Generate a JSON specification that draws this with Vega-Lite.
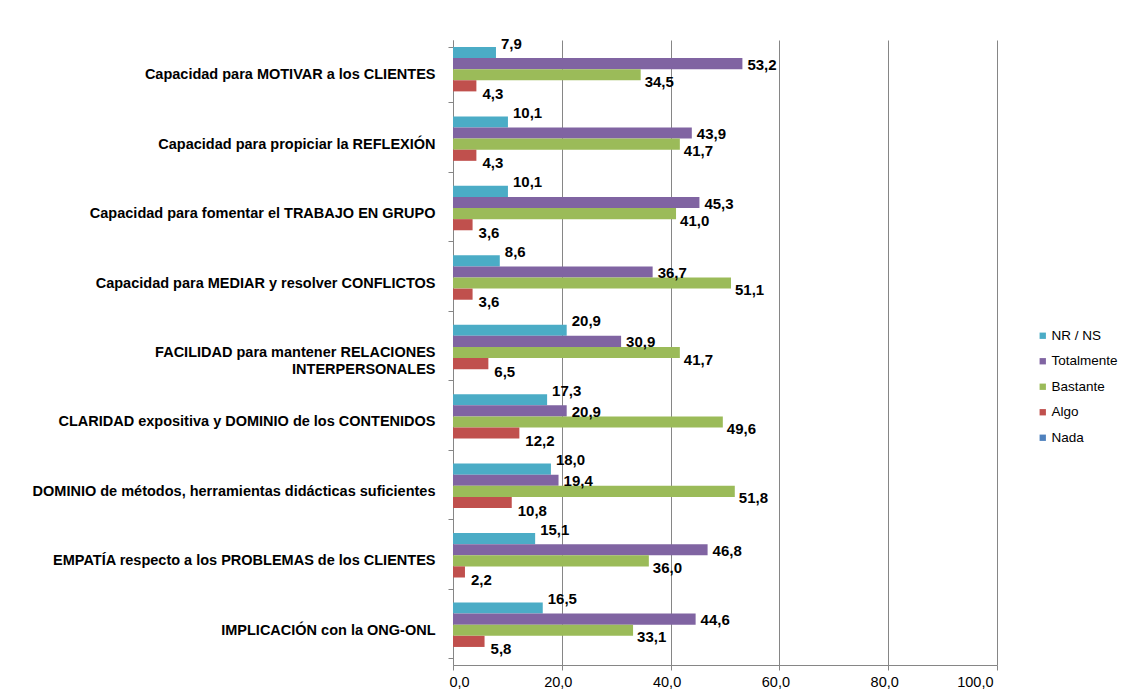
{
  "$schema": "https://vega.github.io/schema/vega-lite/v6.json",
  "width": 544,
  "height": 625,
  "autosize": {"type": "none"},
  "padding": {"left": 453, "top": 40, "right": 128, "bottom": 33},
  "background": "white",
  "config": {
    "font": "Liberation Sans",
    "view": {"stroke": null},
    "locale": {"number": {"decimal": ",", "thousands": ".", "grouping": [3], "currency": ["", " €"]}}
  },
  "data": {
    "values": [
      {"category": "Capacidad para MOTIVAR a los CLIENTES", "series": "NR / NS", "value": 7.9},
      {"category": "Capacidad para MOTIVAR a los CLIENTES", "series": "Totalmente", "value": 53.2},
      {"category": "Capacidad para MOTIVAR a los CLIENTES", "series": "Bastante", "value": 34.5},
      {"category": "Capacidad para MOTIVAR a los CLIENTES", "series": "Algo", "value": 4.3},
      {"category": "Capacidad para MOTIVAR a los CLIENTES", "series": "Nada", "value": 0},
      {"category": "Capacidad para propiciar la REFLEXIÓN", "series": "NR / NS", "value": 10.1},
      {"category": "Capacidad para propiciar la REFLEXIÓN", "series": "Totalmente", "value": 43.9},
      {"category": "Capacidad para propiciar la REFLEXIÓN", "series": "Bastante", "value": 41.7},
      {"category": "Capacidad para propiciar la REFLEXIÓN", "series": "Algo", "value": 4.3},
      {"category": "Capacidad para propiciar la REFLEXIÓN", "series": "Nada", "value": 0},
      {"category": "Capacidad para fomentar el TRABAJO EN GRUPO", "series": "NR / NS", "value": 10.1},
      {"category": "Capacidad para fomentar el TRABAJO EN GRUPO", "series": "Totalmente", "value": 45.3},
      {"category": "Capacidad para fomentar el TRABAJO EN GRUPO", "series": "Bastante", "value": 41.0},
      {"category": "Capacidad para fomentar el TRABAJO EN GRUPO", "series": "Algo", "value": 3.6},
      {"category": "Capacidad para fomentar el TRABAJO EN GRUPO", "series": "Nada", "value": 0},
      {"category": "Capacidad para MEDIAR y resolver CONFLICTOS", "series": "NR / NS", "value": 8.6},
      {"category": "Capacidad para MEDIAR y resolver CONFLICTOS", "series": "Totalmente", "value": 36.7},
      {"category": "Capacidad para MEDIAR y resolver CONFLICTOS", "series": "Bastante", "value": 51.1},
      {"category": "Capacidad para MEDIAR y resolver CONFLICTOS", "series": "Algo", "value": 3.6},
      {"category": "Capacidad para MEDIAR y resolver CONFLICTOS", "series": "Nada", "value": 0},
      {"category": "FACILIDAD para mantener RELACIONES INTERPERSONALES", "series": "NR / NS", "value": 20.9},
      {"category": "FACILIDAD para mantener RELACIONES INTERPERSONALES", "series": "Totalmente", "value": 30.9},
      {"category": "FACILIDAD para mantener RELACIONES INTERPERSONALES", "series": "Bastante", "value": 41.7},
      {"category": "FACILIDAD para mantener RELACIONES INTERPERSONALES", "series": "Algo", "value": 6.5},
      {"category": "FACILIDAD para mantener RELACIONES INTERPERSONALES", "series": "Nada", "value": 0},
      {"category": "CLARIDAD expositiva y DOMINIO de los CONTENIDOS", "series": "NR / NS", "value": 17.3},
      {"category": "CLARIDAD expositiva y DOMINIO de los CONTENIDOS", "series": "Totalmente", "value": 20.9},
      {"category": "CLARIDAD expositiva y DOMINIO de los CONTENIDOS", "series": "Bastante", "value": 49.6},
      {"category": "CLARIDAD expositiva y DOMINIO de los CONTENIDOS", "series": "Algo", "value": 12.2},
      {"category": "CLARIDAD expositiva y DOMINIO de los CONTENIDOS", "series": "Nada", "value": 0},
      {"category": "DOMINIO de métodos, herramientas didácticas suficientes", "series": "NR / NS", "value": 18.0},
      {"category": "DOMINIO de métodos, herramientas didácticas suficientes", "series": "Totalmente", "value": 19.4},
      {"category": "DOMINIO de métodos, herramientas didácticas suficientes", "series": "Bastante", "value": 51.8},
      {"category": "DOMINIO de métodos, herramientas didácticas suficientes", "series": "Algo", "value": 10.8},
      {"category": "DOMINIO de métodos, herramientas didácticas suficientes", "series": "Nada", "value": 0},
      {"category": "EMPATÍA respecto a los PROBLEMAS de los CLIENTES", "series": "NR / NS", "value": 15.1},
      {"category": "EMPATÍA respecto a los PROBLEMAS de los CLIENTES", "series": "Totalmente", "value": 46.8},
      {"category": "EMPATÍA respecto a los PROBLEMAS de los CLIENTES", "series": "Bastante", "value": 36.0},
      {"category": "EMPATÍA respecto a los PROBLEMAS de los CLIENTES", "series": "Algo", "value": 2.2},
      {"category": "EMPATÍA respecto a los PROBLEMAS de los CLIENTES", "series": "Nada", "value": 0},
      {"category": "IMPLICACIÓN con la ONG-ONL", "series": "NR / NS", "value": 16.5},
      {"category": "IMPLICACIÓN con la ONG-ONL", "series": "Totalmente", "value": 44.6},
      {"category": "IMPLICACIÓN con la ONG-ONL", "series": "Bastante", "value": 33.1},
      {"category": "IMPLICACIÓN con la ONG-ONL", "series": "Algo", "value": 5.8},
      {"category": "IMPLICACIÓN con la ONG-ONL", "series": "Nada", "value": 0}
    ]
  },
  "encoding": {
    "y": {
      "field": "category",
      "type": "nominal",
      "sort": null,
      "scale": {"paddingInner": 0.2, "paddingOuter": 0.1},
      "axis": {
        "title": null,
        "labelFont": "Liberation Sans",
        "labelFontSize": 14.5,
        "labelFontWeight": "bold",
        "labelColor": "#000000",
        "labelLimit": 450,
        "labelPadding": 13,
        "labelLineHeight": 17,
        "tickBand": "extent",
        "tickColor": "#868686",
        "tickSize": 5,
        "domainColor": "#868686",
        "labelExpr": "datum.label == 'FACILIDAD para mantener RELACIONES INTERPERSONALES' ? ['FACILIDAD para mantener RELACIONES', 'INTERPERSONALES\u00a0\u00a0\u00a0\u00a0\u00a0\u00a0\u00a0\u00a0\u00a0\u00a0\u00a0\u00a0\u00a0\u00a0\u00a0\u00a0\u00a0'] : datum.label"
      }
    },
    "yOffset": {
      "field": "series",
      "type": "nominal",
      "sort": ["NR / NS", "Totalmente", "Bastante", "Algo", "Nada"],
      "scale": {"paddingInner": 0, "paddingOuter": 0}
    },
    "x": {
      "field": "value",
      "type": "quantitative",
      "scale": {"domain": [0, 100], "nice": false},
      "axis": {
        "title": null,
        "values": [0, 20, 40, 60, 80, 100],
        "format": ".1f",
        "labelFont": "Liberation Sans",
        "labelFontSize": 14.5,
        "labelColor": "#000000",
        "labelPadding": 5,
        "labelOffset": -4,
        "grid": true,
        "gridColor": "#868686",
        "gridWidth": 1,
        "tickColor": "#868686",
        "tickSize": 5,
        "domainColor": "#868686"
      }
    }
  },
  "layer": [
    {
      "mark": {"type": "bar", "stroke": null},
      "encoding": {
        "color": {
          "field": "series",
          "type": "nominal",
          "scale": {
            "domain": ["NR / NS", "Totalmente", "Bastante", "Algo", "Nada"],
            "range": ["#4BACC6", "#8064A2", "#9BBB59", "#C0504D", "#4F81BD"]
          },
          "legend": {
            "title": null,
            "orient": "none",
            "legendX": 583,
            "legendY": 289,
            "symbolType": "square",
            "symbolSize": 40,
            "symbolStrokeWidth": 0,
            "labelFont": "Liberation Sans",
            "labelFontSize": 13.5,
            "labelColor": "#000000",
            "rowPadding": 10.5,
            "labelOffset": 2
          }
        }
      }
    },
    {
      "transform": [{"filter": "datum.series == 'NR / NS'"}],
      "mark": {"type": "text", "align": "left", "baseline": "middle", "dx": 5, "dy": -9, "fontWeight": "bold", "fontSize": 15, "font": "Liberation Sans", "color": "#000000"},
      "encoding": {"text": {"field": "value", "type": "quantitative", "format": ".1f"}}
    },
    {
      "transform": [{"filter": "datum.series == 'Totalmente'"}],
      "mark": {"type": "text", "align": "left", "baseline": "middle", "dx": 5, "dy": 1, "fontWeight": "bold", "fontSize": 15, "font": "Liberation Sans", "color": "#000000"},
      "encoding": {"text": {"field": "value", "type": "quantitative", "format": ".1f"}}
    },
    {
      "transform": [{"filter": "datum.series == 'Bastante'"}],
      "mark": {"type": "text", "align": "left", "baseline": "middle", "dx": 4, "dy": 7, "fontWeight": "bold", "fontSize": 15, "font": "Liberation Sans", "color": "#000000"},
      "encoding": {"text": {"field": "value", "type": "quantitative", "format": ".1f"}}
    },
    {
      "transform": [{"filter": "datum.series == 'Algo'"}],
      "mark": {"type": "text", "align": "left", "baseline": "middle", "dx": 6, "dy": 8, "fontWeight": "bold", "fontSize": 15, "font": "Liberation Sans", "color": "#000000"},
      "encoding": {"text": {"field": "value", "type": "quantitative", "format": ".1f"}}
    }
  ]
}
